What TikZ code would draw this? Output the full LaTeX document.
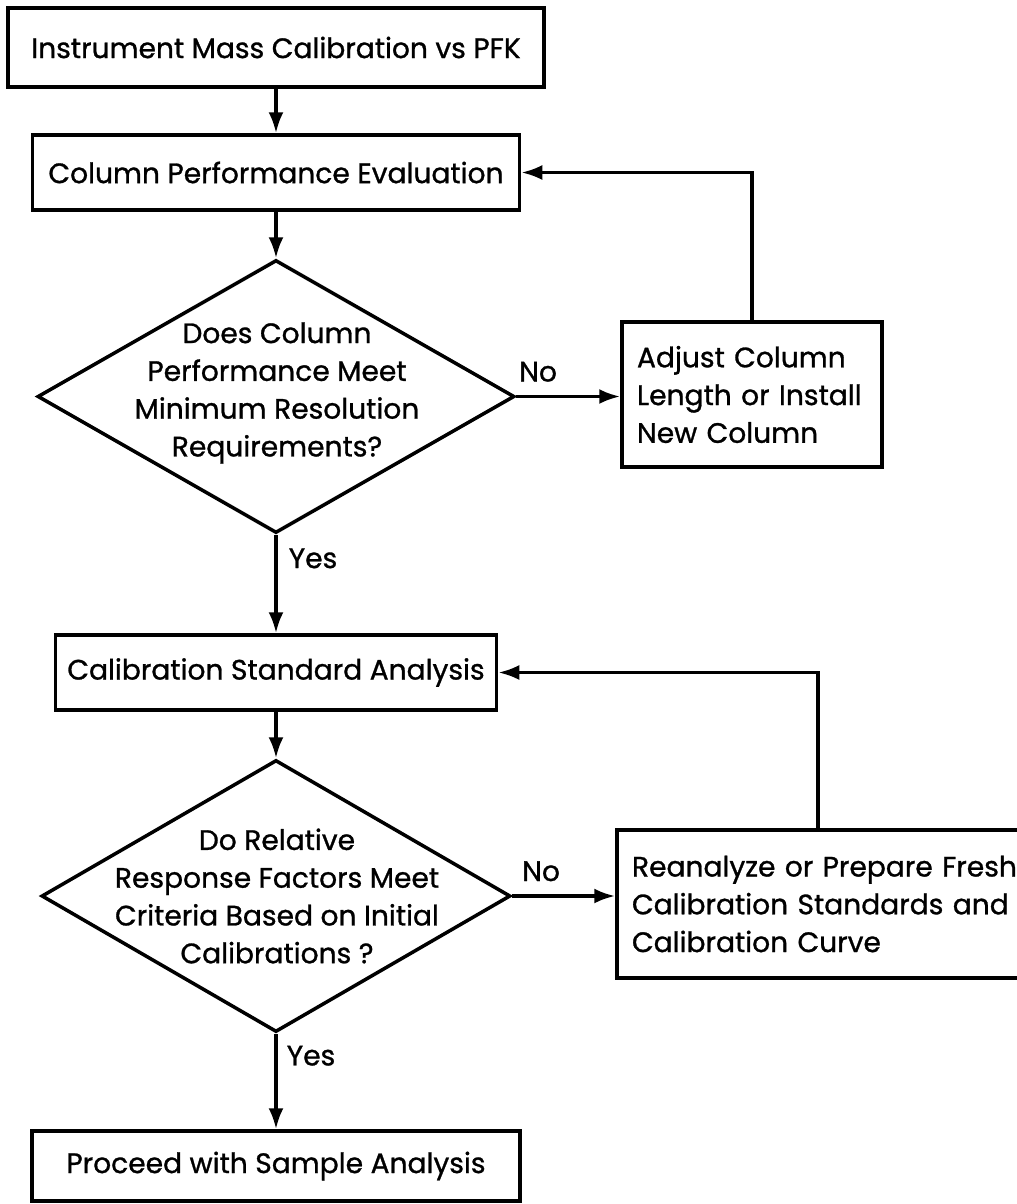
\documentclass[tikz,border=0pt]{standalone}
\usepackage{fontspec}
\setmainfont{Poppins}[FakeBold=1]
\usetikzlibrary{shapes.geometric,arrows.meta,calc}
\begin{document}
\begin{tikzpicture}[x=0.02cm,y=-0.02cm,
  every node/.style={font=\fontsize{16}{21.5}\selectfont},
  procbox/.style={draw,line width=2pt,rectangle,inner sep=0pt,align=center},
  sidebox/.style={draw,line width=2pt,rectangle,inner xsep=0.3cm,inner ysep=0pt,align=left},
  decision/.style={draw,line width=2pt,diamond,inner sep=0pt},
  dtext/.style={inner sep=0pt,align=center},
  flow/.style={line width=2pt,-{Latex[length=0.42cm,width=0.3cm]}},
  lbl/.style={inner sep=0pt}]
\useasboundingbox (0,0) rectangle (1017,1204);
\clip (0,0) rectangle (1017,1204);
\node[procbox,minimum width=536*0.02cm,minimum height=79*0.02cm] (b1) at (276,47.5) {Instrument Mass Calibration vs PFK};
\node[procbox,minimum width=487*0.02cm,minimum height=75*0.02cm] (b2) at (276,172.5) {Column Performance Evaluation};
\node[decision,minimum width=477*0.02cm,minimum height=273*0.02cm] (d1) at (276,396.5) {};
\node[dtext] (d1t) at (277,393) {Does Column\\Performance Meet\\Minimum Resolution\\Requirements?};
\node[sidebox,text width=230*0.02cm,minimum height=145*0.02cm] (adj) at (752,394.5) {Adjust Column\\Length or Install\\New Column};
\node[procbox,minimum width=441*0.02cm,minimum height=75*0.02cm] (b3) at (276,672.5) {Calibration Standard Analysis};
\node[decision,minimum width=469*0.02cm,minimum height=272*0.02cm] (d2) at (276,896) {};
\node[dtext] (d2t) at (277,896) {Do Relative\\Response Factors Meet\\Criteria Based on Initial\\Calibrations ?};
\node[sidebox,inner xsep=15*0.02cm,text width=400*0.02cm,minimum height=148*0.02cm] (rea) at (832,904) {Reanalyze or Prepare Fresh\\Calibration Standards and\\Calibration Curve};
\node[procbox,minimum width=488*0.02cm,minimum height=70*0.02cm] (b4) at (276,1166) {Proceed with Sample Analysis};
\draw[flow] (b1) -- (b2);
\draw[flow] (b2) -- (d1.north);
\draw[flow] (d1.east) -- (d1.east -| adj.west) node[lbl,pos=0.21,above=0.26cm] (no1) {No};
\draw[flow] (adj.north) |- (b2.east);
\draw[flow] (d1.south) -- (b3.north) node[lbl,pos=0.24,right=0.22cm] (yes1) {Yes};
\draw[flow] (b3) -- (d2.north);
\draw[flow] (d2.east) -- (d2.east -| rea.west) node[lbl,pos=0.28,above=0.26cm] (no2) {No};
\draw[flow] ([xshift=203*0.02cm]rea.north west) |- (b3.east);
\draw[flow] (d2.south) -- (b4.north) node[lbl,pos=0.23,right=0.18cm] (yes2) {Yes};
\end{tikzpicture}
\end{document}
